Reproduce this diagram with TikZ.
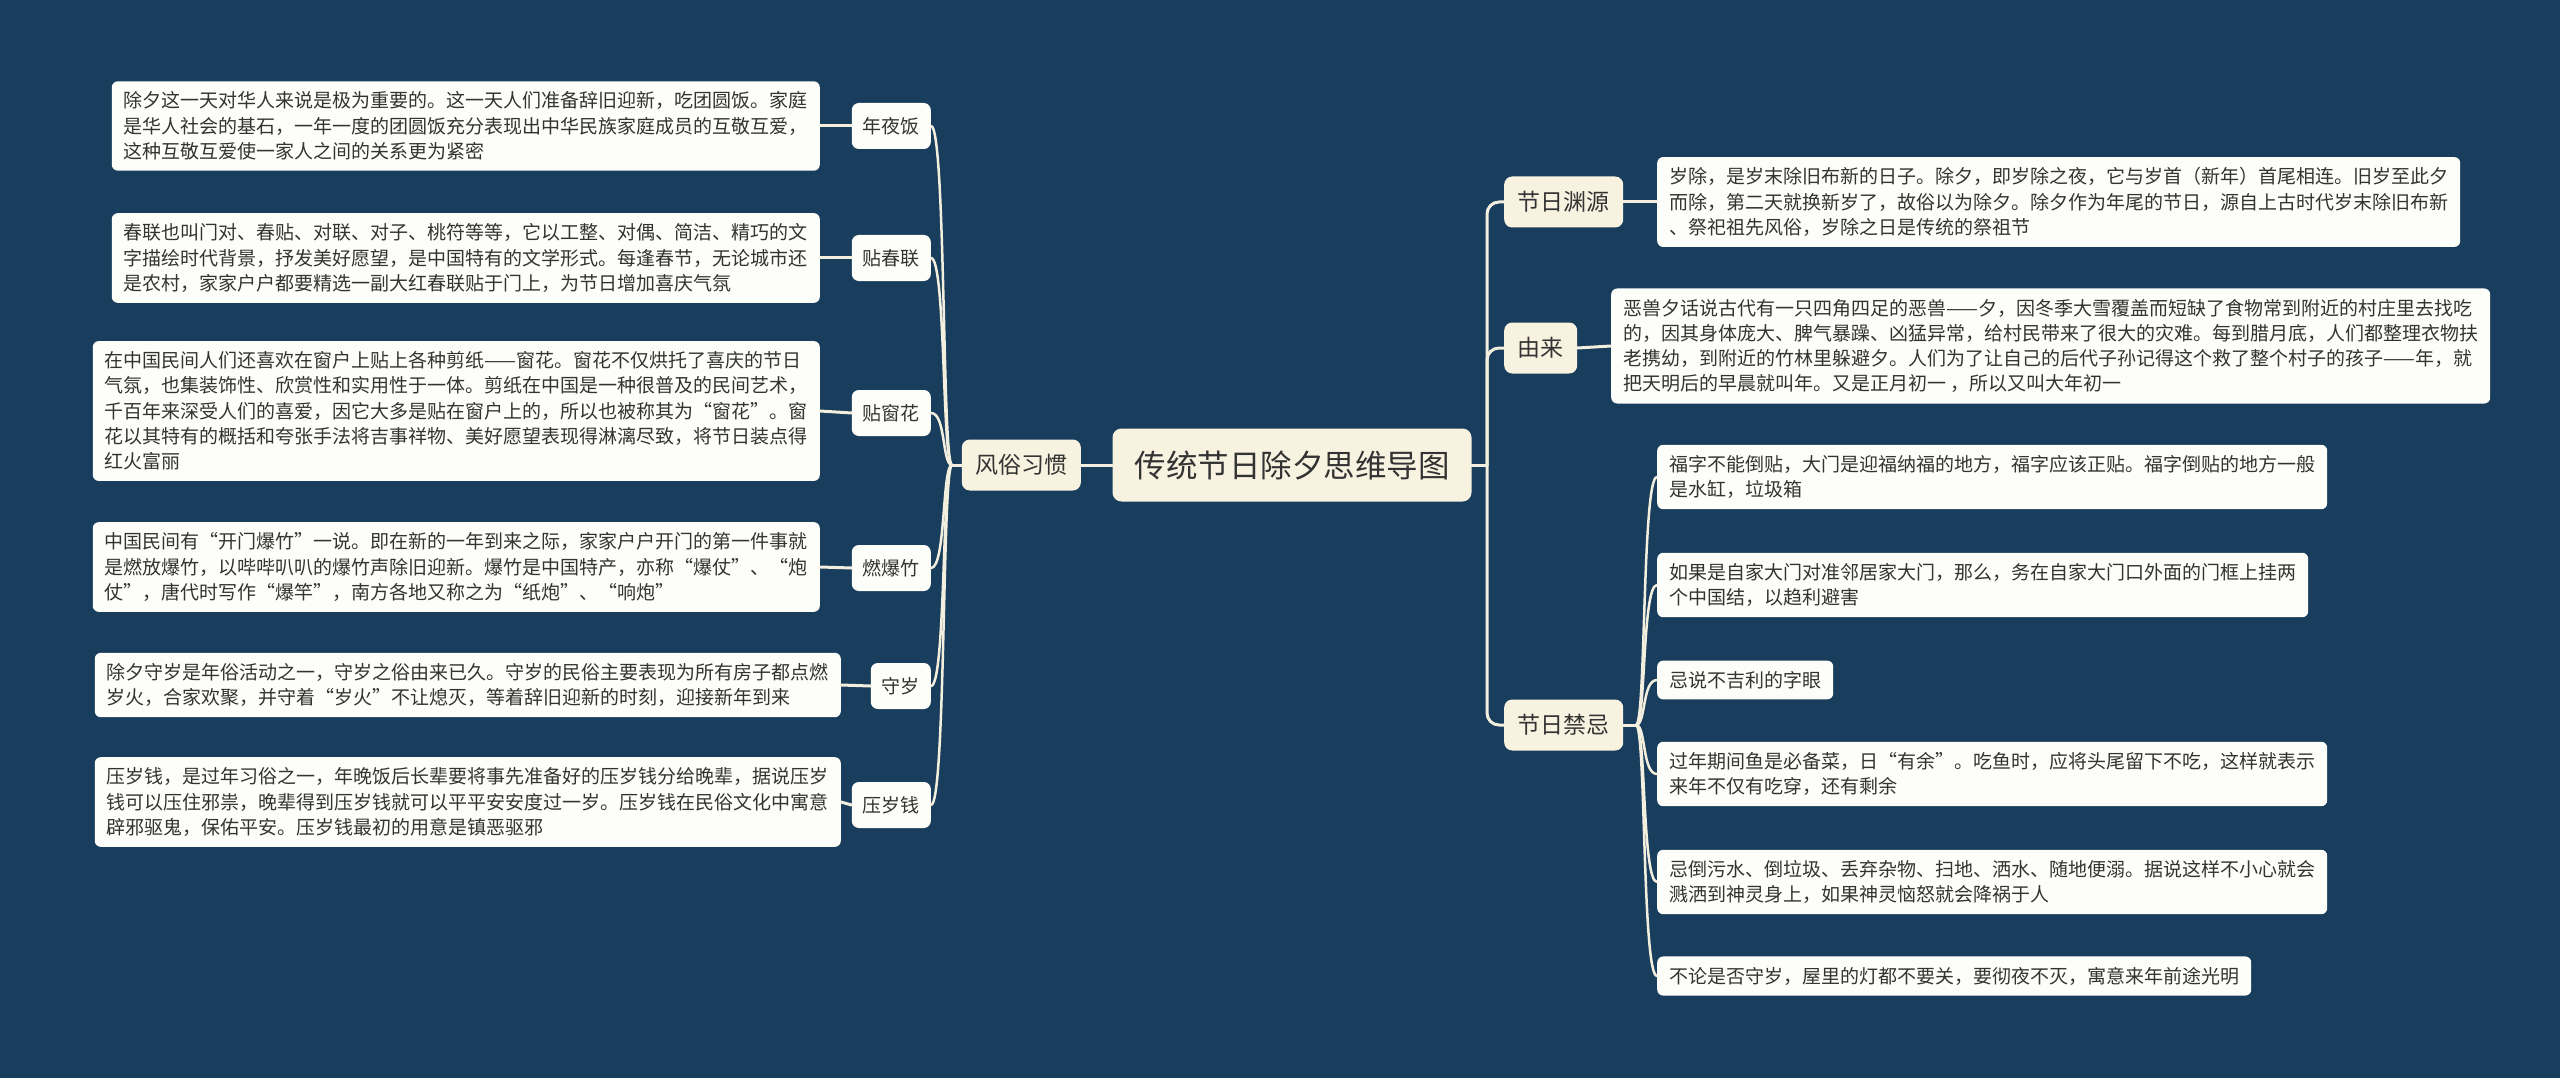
\documentclass[tikz,border=0pt]{standalone}
\usepackage{fontspec}
\setmainfont{Noto Sans CJK SC}
\definecolor{bgc}{HTML}{193D5C}
\definecolor{cream}{HTML}{F8F3E1}
\definecolor{boxw}{HTML}{FDFDF9}
\definecolor{linec}{HTML}{F3EFDF}
\definecolor{textc}{HTML}{333333}
\tikzset{
  txtbox/.style={fill=boxw, rounded corners=6pt, inner xsep=12pt, inner ysep=10.5pt, align=left, text=textc, font=\fontsize{19}{25.3}\selectfont},
  lvtwo/.style={fill=boxw, rounded corners=7pt, inner xsep=11pt, inner ysep=0pt, minimum height=46pt, text=textc, font=\fontsize{19}{22}\selectfont},
  lvone/.style={fill=cream, rounded corners=8pt, inner xsep=13.5pt, inner ysep=0pt, minimum height=51pt, text=textc, font=\fontsize{23}{26}\selectfont},
  rootbox/.style={fill=cream, rounded corners=9pt, inner xsep=22pt, inner ysep=0pt, minimum height=73pt, text=textc, font=\fontsize{31.5}{34}\selectfont},
  link/.style={draw=linec, line width=3pt, line cap=round},
  thinlink/.style={draw=linec, line width=2.5pt, line cap=round}
}
\begin{document}
\begin{tikzpicture}[x=1pt,y=-1pt]
\useasboundingbox (0,0) rectangle (2560,1078);
\fill[bgc] (0,0) rectangle (2560,1078);

% root and main branch
\node[rootbox] (root) at (1292,465) {传统节日除夕思维导图};
\node[lvone, anchor=east] (fs) at (1081,465) {风俗习惯};

% left level two
\node[lvtwo, anchor=east] (nyf) at (931,126) {年夜饭};
\node[lvtwo, anchor=east] (tcl) at (931,258) {贴春联};
\node[lvtwo, anchor=east] (tch) at (931,413) {贴窗花};
\node[lvtwo, anchor=east] (rbz) at (931,568) {燃爆竹};
\node[lvtwo, anchor=east] (ss) at (931,686) {守岁};
\node[lvtwo, anchor=east] (ysq) at (931,805) {压岁钱};

% left texts
\node[txtbox, anchor=east] (tnyf) at (820,126) {除夕这一天对华人来说是极为重要的。这一天人们准备辞旧迎新，吃团圆饭。家庭\\是华人社会的基石，一年一度的团圆饭充分表现出中华民族家庭成员的互敬互爱，\\这种互敬互爱使一家人之间的关系更为紧密};
\node[txtbox, anchor=east] (ttcl) at (820,258) {春联也叫门对、春贴、对联、对子、桃符等等，它以工整、对偶、简洁、精巧的文\\字描绘时代背景，抒发美好愿望，是中国特有的文学形式。每逢春节，无论城市还\\是农村，家家户户都要精选一副大红春联贴于门上，为节日增加喜庆气氛};
\node[txtbox, anchor=east] (ttch) at (820,411) {在中国民间人们还喜欢在窗户上贴上各种剪纸——窗花。窗花不仅烘托了喜庆的节日\\气氛，也集装饰性、欣赏性和实用性于一体。剪纸在中国是一种很普及的民间艺术，\\千百年来深受人们的喜爱，因它大多是贴在窗户上的，所以也被称其为“窗花”。窗\\花以其特有的概括和夸张手法将吉事祥物、美好愿望表现得淋漓尽致，将节日装点得\\红火富丽};
\node[txtbox, anchor=east] (trbz) at (820,567) {中国民间有“开门爆竹”一说。即在新的一年到来之际，家家户户开门的第一件事就\\是燃放爆竹，以哔哔叭叭的爆竹声除旧迎新。爆竹是中国特产，亦称“爆仗”、“炮\\仗”，唐代时写作“爆竿”，南方各地又称之为“纸炮”、“响炮”};
\node[txtbox, anchor=east] (tss) at (841,685) {除夕守岁是年俗活动之一，守岁之俗由来已久。守岁的民俗主要表现为所有房子都点燃\\岁火，合家欢聚，并守着“岁火”不让熄灭，等着辞旧迎新的时刻，迎接新年到来};
\node[txtbox, anchor=east] (tysq) at (841,802) {压岁钱，是过年习俗之一，年晚饭后长辈要将事先准备好的压岁钱分给晚辈，据说压岁\\钱可以压住邪祟，晚辈得到压岁钱就可以平平安安度过一岁。压岁钱在民俗文化中寓意\\辟邪驱鬼，保佑平安。压岁钱最初的用意是镇恶驱邪};

% right level one
\node[lvone, anchor=west] (yy) at (1504,202) {节日渊源};
\node[lvone, anchor=west] (yl) at (1504,348) {由来};
\node[lvone, anchor=west] (jj) at (1504,725) {节日禁忌};

% right texts
\node[txtbox, anchor=west] (tyy) at (1657,202) {岁除，是岁末除旧布新的日子。除夕，即岁除之夜，它与岁首（新年）首尾相连。旧岁至此夕\\而除，第二天就换新岁了，故俗以为除夕。除夕作为年尾的节日，源自上古时代岁末除旧布新\\、祭祀祖先风俗，岁除之日是传统的祭祖节};
\node[txtbox, anchor=west] (tyl) at (1611,346) {恶兽夕话说古代有一只四角四足的恶兽——夕，因冬季大雪覆盖而短缺了食物常到附近的村庄里去找吃\\的，因其身体庞大、脾气暴躁、凶猛异常，给村民带来了很大的灾难。每到腊月底，人们都整理衣物扶\\老携幼，到附近的竹林里躲避夕。人们为了让自己的后代子孙记得这个救了整个村子的孩子——年，就\\把天明后的早晨就叫年。又是正月初一 ，所以又叫大年初一};

\node[txtbox, anchor=west] (ja) at (1657,477) {福字不能倒贴，大门是迎福纳福的地方，福字应该正贴。福字倒贴的地方一般\\是水缸，垃圾箱};
\node[txtbox, anchor=west] (jb) at (1657,585) {如果是自家大门对准邻居家大门，那么，务在自家大门口外面的门框上挂两\\个中国结，以趋利避害};
\node[txtbox, anchor=west] (jc) at (1657,680) {忌说不吉利的字眼};
\node[txtbox, anchor=west] (jd) at (1657,774) {过年期间鱼是必备菜，日“有余”。吃鱼时，应将头尾留下不吃，这样就表示\\来年不仅有吃穿，还有剩余};
\node[txtbox, anchor=west] (je) at (1657,882) {忌倒污水、倒垃圾、丢弃杂物、扫地、洒水、随地便溺。据说这样不小心就会\\溅洒到神灵身上，如果神灵恼怒就会降祸于人};
\node[txtbox, anchor=west] (jf) at (1657,976) {不论是否守岁，屋里的灯都不要关，要彻夜不灭，寓意来年前途光明};

% connectors: main
\draw[link] (fs.east) -- (root.west);
\coordinate (rb) at (1487,465);
\draw[link] (root.east) -- (rb);
\draw[link, rounded corners=12pt] (rb) |- (yy.west);
\draw[link, rounded corners=12pt] (rb) |- (yl.west);
\draw[link, rounded corners=12pt] (rb) |- (jj.west);

% left curves
\coordinate (lb) at (952,465);
\draw[link] (fs.west) -- (lb);
\foreach \n/\y in {nyf/126, tcl/258, tch/413, rbz/568, ss/686, ysq/805}{
  \draw[thinlink] (lb) .. controls (942,465) and (946,\y) .. (\n.east);
}

% right curves for taboos
\coordinate (jbus) at (1636,725);
\draw[link] (jj.east) -- (jbus);
\foreach \n/\y in {ja/477, jb/585, jc/680, jd/774, je/882, jf/976}{
  \draw[thinlink] (jbus) .. controls (1646,725) and (1642,\y) .. (\n.west);
}

% text links
\draw[link] (tnyf.east) -- (nyf.west);
\draw[link] (ttcl.east) -- (tcl.west);
\draw[link] (ttch.east) -- (tch.west);
\draw[link] (trbz.east) -- (rbz.west);
\draw[link] (tss.east) -- (ss.west);
\draw[link] (tysq.east) -- (ysq.west);
\draw[link] (yy.east) -- (tyy.west);
\draw[link] (yl.east) -- (tyl.west);
\end{tikzpicture}
\end{document}
